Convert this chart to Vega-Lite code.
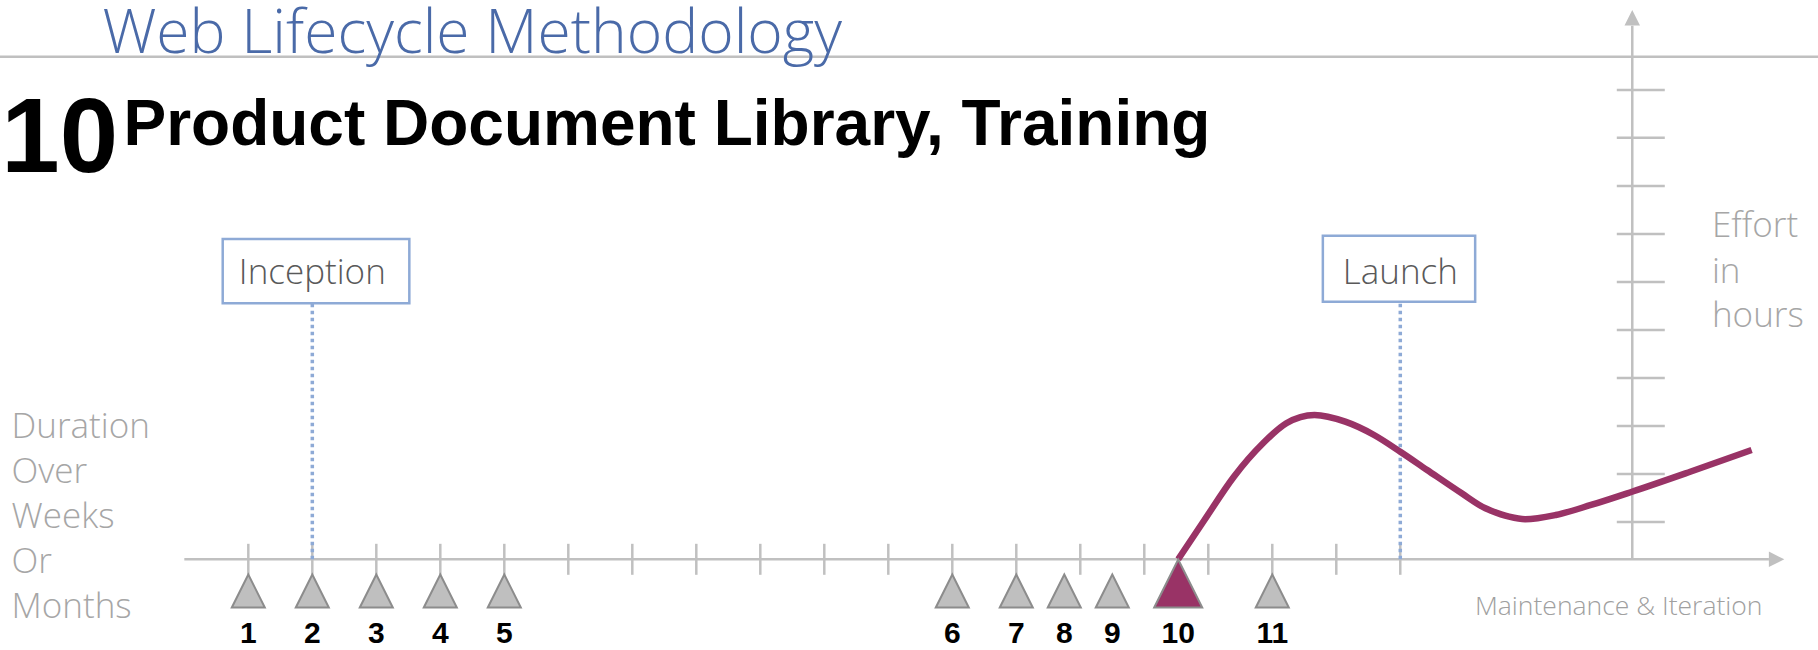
{
  "$schema": "https://vega.github.io/schema/vega-lite/v6.json",
  "width": 1818,
  "height": 650,
  "autosize": {"type": "none"},
  "padding": 0,
  "background": "white",
  "config": {"view": {"stroke": null}},
  "datasets": {
    "axes": [
      {"part": "title rule", "week": -3.88, "week2": 24.527, "effort": 10.427, "effort2": 10.427},
      {"part": "time axis", "week": -1.0, "week2": 23.76, "effort": 0, "effort2": 0},
      {"part": "effort axis", "week": 21.625, "week2": 21.625, "effort": 0, "effort2": 11.07}
    ],
    "timeTicks": [
      {"week": 0}, {"week": 1}, {"week": 2}, {"week": 3}, {"week": 4}, {"week": 5}, {"week": 6},
      {"week": 7}, {"week": 8}, {"week": 9}, {"week": 10}, {"week": 11}, {"week": 12}, {"week": 13},
      {"week": 14}, {"week": 15}, {"week": 16}, {"week": 17}, {"week": 18}
    ],
    "effortTicks": [
      {"effort": 0.774}, {"effort": 1.77}, {"effort": 2.766}, {"effort": 3.761}, {"effort": 4.757},
      {"effort": 5.753}, {"effort": 6.749}, {"effort": 7.745}, {"effort": 8.747}, {"effort": 9.737}
    ],
    "arrowRight": [{"week": 23.88, "effort": 0}],
    "arrowUp": [{"week": 21.625, "effort": 11.233}],
    "gates": [
      {"gate": "Inception", "week": 1, "left": -0.4, "right": 2.516, "bottom": 5.311, "top": 6.645},
      {"gate": "Launch", "week": 18, "left": 16.79, "right": 19.17, "bottom": 5.344, "top": 6.714}
    ],
    "gateLines": [
      {"gate": "Inception", "week": 1, "effort": 0},
      {"gate": "Inception", "week": 1, "effort": 5.311},
      {"gate": "Launch", "week": 18, "effort": 0},
      {"gate": "Launch", "week": 18, "effort": 5.344}
    ],
    "effortCurve": [
      {"week": 14.53, "effort": 0},
      {"week": 14.94, "effort": 0.815},
      {"week": 15.4, "effort": 1.714},
      {"week": 15.855, "effort": 2.407},
      {"week": 16.22, "effort": 2.822},
      {"week": 16.66, "effort": 2.994},
      {"week": 17.14, "effort": 2.855},
      {"week": 17.59, "effort": 2.579},
      {"week": 18.0, "effort": 2.232},
      {"week": 18.42, "effort": 1.853},
      {"week": 18.96, "effort": 1.369},
      {"week": 19.33, "effort": 1.058},
      {"week": 19.42, "effort": 1.008},
      {"week": 19.7, "effort": 0.884},
      {"week": 19.95, "effort": 0.83},
      {"week": 20.43, "effort": 0.919},
      {"week": 20.98, "effort": 1.127},
      {"week": 21.62, "effort": 1.402},
      {"week": 22.53, "effort": 1.817},
      {"week": 23.49, "effort": 2.268}
    ],
    "milestones": [
      {"n": 1, "week": 0}, {"n": 2, "week": 1}, {"n": 3, "week": 2}, {"n": 4, "week": 3},
      {"n": 5, "week": 4}, {"n": 6, "week": 11}, {"n": 7, "week": 12}, {"n": 8, "week": 12.75},
      {"n": 9, "week": 13.5}, {"n": 10, "week": 14.53}, {"n": 11, "week": 16}
    ],
    "notes": [
      {"text": "Web Lifecycle Methodology", "role": "heading", "week": -2.28, "effort": 10.498},
      {"text": "10", "role": "number", "week": -2.034, "effort": 8.041},
      {"text": "Product Document Library, Training", "role": "title", "week": -1.951, "effort": 8.595},
      {"text": "Duration", "role": "side", "week": -3.7, "effort": 2.51},
      {"text": "Over", "role": "side", "week": -3.7, "effort": 1.577},
      {"text": "Weeks", "role": "side", "week": -3.7, "effort": 0.649},
      {"text": "Or", "role": "side", "week": -3.7, "effort": -0.284},
      {"text": "Months", "role": "side", "week": -3.7, "effort": -1.218},
      {"text": "Effort", "role": "side", "week": 22.87, "effort": 6.687},
      {"text": "in", "role": "side", "week": 22.87, "effort": 5.732},
      {"text": "hours", "role": "side", "week": 22.87, "effort": 4.819},
      {"text": "Maintenance & Iteration", "role": "axis", "week": 23.66, "effort": -1.156}
    ]
  },
  "layer": [
    {
      "data": {"name": "axes"},
      "mark": {"type": "rule", "color": "#c0c0c0", "strokeWidth": 2.5},
      "encoding": {
        "x": {"field": "week", "type": "quantitative", "scale": {"domain": [-3.88, 24.527], "nice": false, "zero": false}, "axis": null},
        "x2": {"field": "week2"},
        "y": {"field": "effort", "type": "quantitative", "scale": {"domain": [-1.8817, 11.6037], "nice": false, "zero": false}, "axis": null},
        "y2": {"field": "effort2"}
      }
    },
    {
      "data": {"name": "timeTicks"},
      "mark": {"type": "tick", "orient": "vertical", "color": "#c0c0c0", "size": 31, "thickness": 2.5, "opacity": 1},
      "encoding": {
        "x": {"field": "week", "type": "quantitative", "scale": {"domain": [-3.88, 24.527], "nice": false, "zero": false}, "axis": null},
        "y": {"datum": 0, "type": "quantitative", "scale": {"domain": [-1.8817, 11.6037], "nice": false, "zero": false}, "axis": null}
      }
    },
    {
      "data": {"name": "effortTicks"},
      "mark": {"type": "tick", "orient": "horizontal", "color": "#c0c0c0", "size": 48, "thickness": 2.5, "opacity": 1},
      "encoding": {
        "x": {"datum": 21.758, "type": "quantitative", "scale": {"domain": [-3.88, 24.527], "nice": false, "zero": false}, "axis": null},
        "y": {"field": "effort", "type": "quantitative", "scale": {"domain": [-1.8817, 11.6037], "nice": false, "zero": false}, "axis": null}
      }
    },
    {
      "data": {"name": "arrowRight"},
      "mark": {"type": "point", "shape": "M-1,-1L1,0L-1,1Z", "filled": true, "color": "#c0c0c0", "opacity": 1, "size": 240},
      "encoding": {
        "x": {"field": "week", "type": "quantitative", "scale": {"domain": [-3.88, 24.527], "nice": false, "zero": false}, "axis": null},
        "y": {"field": "effort", "type": "quantitative", "scale": {"domain": [-1.8817, 11.6037], "nice": false, "zero": false}, "axis": null}
      }
    },
    {
      "data": {"name": "arrowUp"},
      "mark": {"type": "point", "shape": "M-1,1L0,-1L1,1Z", "filled": true, "color": "#c0c0c0", "opacity": 1, "size": 240},
      "encoding": {
        "x": {"field": "week", "type": "quantitative", "scale": {"domain": [-3.88, 24.527], "nice": false, "zero": false}, "axis": null},
        "y": {"field": "effort", "type": "quantitative", "scale": {"domain": [-1.8817, 11.6037], "nice": false, "zero": false}, "axis": null}
      }
    },
    {
      "data": {"name": "gateLines"},
      "mark": {"type": "line", "color": "#8eaad6", "strokeWidth": 3.5, "strokeDash": [3.5, 3.5]},
      "encoding": {
        "x": {"field": "week", "type": "quantitative", "scale": {"domain": [-3.88, 24.527], "nice": false, "zero": false}, "axis": null},
        "y": {"field": "effort", "type": "quantitative", "scale": {"domain": [-1.8817, 11.6037], "nice": false, "zero": false}, "axis": null},
        "detail": {"field": "gate", "type": "nominal"},
        "order": {"field": "effort", "type": "quantitative"}
      }
    },
    {
      "data": {"name": "gates"},
      "mark": {"type": "rect", "fill": "white", "stroke": "#8eaad6", "strokeWidth": 2.5},
      "encoding": {
        "x": {"field": "left", "type": "quantitative", "scale": {"domain": [-3.88, 24.527], "nice": false, "zero": false}, "axis": null},
        "x2": {"field": "right"},
        "y": {"field": "bottom", "type": "quantitative", "scale": {"domain": [-1.8817, 11.6037], "nice": false, "zero": false}, "axis": null},
        "y2": {"field": "top"}
      }
    },
    {
      "data": {"name": "gates"},
      "mark": {"type": "text", "font": "Open Sans", "fontWeight": 300, "fontSize": 35, "color": "#595959", "align": "center", "baseline": "alphabetic"},
      "encoding": {
        "x": {"field": "week", "type": "quantitative", "scale": {"domain": [-3.88, 24.527], "nice": false, "zero": false}, "axis": null},
        "y": {"datum": 5.71, "type": "quantitative", "scale": {"domain": [-1.8817, 11.6037], "nice": false, "zero": false}, "axis": null},
        "text": {"field": "gate", "type": "nominal"}
      }
    },
    {
      "data": {"name": "effortCurve"},
      "mark": {"type": "line", "color": "#993366", "strokeWidth": 6.5, "interpolate": "monotone"},
      "encoding": {
        "x": {"field": "week", "type": "quantitative", "scale": {"domain": [-3.88, 24.527], "nice": false, "zero": false}, "axis": null},
        "y": {"field": "effort", "type": "quantitative", "scale": {"domain": [-1.8817, 11.6037], "nice": false, "zero": false}, "axis": null}
      }
    },
    {
      "data": {"name": "milestones"},
      "mark": {"type": "point", "shape": "M-1,0L0,-2L1,0Z", "filled": true, "opacity": 1, "stroke": "#8c8c8c", "strokeWidth": 2},
      "encoding": {
        "x": {"field": "week", "type": "quantitative", "scale": {"domain": [-3.88, 24.527], "nice": false, "zero": false}, "axis": null},
        "y": {"datum": -1.0, "type": "quantitative", "scale": {"domain": [-1.8817, 11.6037], "nice": false, "zero": false}, "axis": null},
        "size": {"condition": {"test": "datum.n === 10", "value": 2304}, "value": 1089},
        "fill": {"condition": {"test": "datum.n === 10", "value": "#993366"}, "value": "#bfbfbf"}
      }
    },
    {
      "data": {"name": "milestones"},
      "mark": {"type": "text", "font": "Liberation Sans", "fontWeight": "bold", "fontSize": 30, "color": "black", "align": "center", "baseline": "alphabetic"},
      "encoding": {
        "x": {"field": "week", "type": "quantitative", "scale": {"domain": [-3.88, 24.527], "nice": false, "zero": false}, "axis": null},
        "y": {"datum": -1.737, "type": "quantitative", "scale": {"domain": [-1.8817, 11.6037], "nice": false, "zero": false}, "axis": null},
        "text": {"field": "n", "type": "nominal"}
      }
    },
    {
      "data": {"name": "notes"},
      "transform": [{"filter": "datum.role === 'heading'"}],
      "mark": {"type": "text", "font": "Open Sans", "fontWeight": 300, "fontSize": 60.5, "color": "#4a6aa8", "align": "left", "baseline": "alphabetic"},
      "encoding": {
        "x": {"field": "week", "type": "quantitative", "scale": {"domain": [-3.88, 24.527], "nice": false, "zero": false}, "axis": null},
        "y": {"field": "effort", "type": "quantitative", "scale": {"domain": [-1.8817, 11.6037], "nice": false, "zero": false}, "axis": null},
        "text": {"field": "text", "type": "nominal"}
      }
    },
    {
      "data": {"name": "notes"},
      "transform": [{"filter": "datum.role === 'number'"}],
      "mark": {"type": "text", "font": "Liberation Sans", "fontWeight": "bold", "fontSize": 105, "color": "black", "align": "right", "baseline": "alphabetic"},
      "encoding": {
        "x": {"field": "week", "type": "quantitative", "scale": {"domain": [-3.88, 24.527], "nice": false, "zero": false}, "axis": null},
        "y": {"field": "effort", "type": "quantitative", "scale": {"domain": [-1.8817, 11.6037], "nice": false, "zero": false}, "axis": null},
        "text": {"field": "text", "type": "nominal"}
      }
    },
    {
      "data": {"name": "notes"},
      "transform": [{"filter": "datum.role === 'title'"}],
      "mark": {"type": "text", "font": "Liberation Sans", "fontWeight": "bold", "fontSize": 64, "color": "black", "align": "left", "baseline": "alphabetic"},
      "encoding": {
        "x": {"field": "week", "type": "quantitative", "scale": {"domain": [-3.88, 24.527], "nice": false, "zero": false}, "axis": null},
        "y": {"field": "effort", "type": "quantitative", "scale": {"domain": [-1.8817, 11.6037], "nice": false, "zero": false}, "axis": null},
        "text": {"field": "text", "type": "nominal"}
      }
    },
    {
      "data": {"name": "notes"},
      "transform": [{"filter": "datum.role === 'side'"}],
      "mark": {"type": "text", "font": "Open Sans", "fontWeight": 300, "fontSize": 35, "color": "#a6a6a6", "align": "left", "baseline": "alphabetic"},
      "encoding": {
        "x": {"field": "week", "type": "quantitative", "scale": {"domain": [-3.88, 24.527], "nice": false, "zero": false}, "axis": null},
        "y": {"field": "effort", "type": "quantitative", "scale": {"domain": [-1.8817, 11.6037], "nice": false, "zero": false}, "axis": null},
        "text": {"field": "text", "type": "nominal"}
      }
    },
    {
      "data": {"name": "notes"},
      "transform": [{"filter": "datum.role === 'axis'"}],
      "mark": {"type": "text", "font": "Open Sans", "fontWeight": 300, "fontSize": 26.5, "color": "#a0a0a0", "align": "right", "baseline": "alphabetic"},
      "encoding": {
        "x": {"field": "week", "type": "quantitative", "scale": {"domain": [-3.88, 24.527], "nice": false, "zero": false}, "axis": null},
        "y": {"field": "effort", "type": "quantitative", "scale": {"domain": [-1.8817, 11.6037], "nice": false, "zero": false}, "axis": null},
        "text": {"field": "text", "type": "nominal"}
      }
    }
  ]
}
